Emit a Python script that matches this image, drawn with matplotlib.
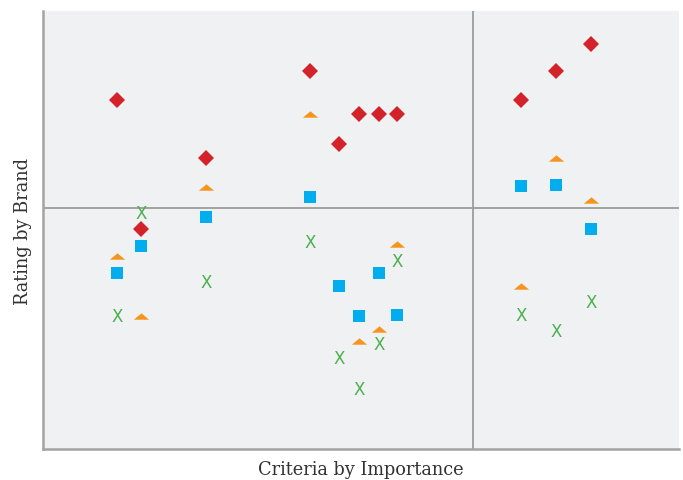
import numpy as np
import matplotlib.pyplot as plt
from matplotlib.path import Path

# positions in percent of the plot box (x: importance, y: rating)
red_x = [11.7, 15.4, 25.6, 42.0, 46.6, 49.7, 52.8, 55.7, 75.2, 80.7, 86.2]
red_y = [79.7, 50.3, 66.4, 86.2, 69.6, 76.4, 76.4, 76.4, 79.6, 86.4, 92.5]

orange_x = [11.7, 15.4, 25.6, 42.0, 49.7, 52.8, 55.7, 75.2, 80.7, 86.2]
orange_y = [44.0, 30.4, 59.9, 76.4, 24.7, 27.4, 46.8, 37.2, 66.4, 56.8]

blue_x = [11.7, 15.4, 25.6, 42.0, 46.6, 49.7, 52.8, 55.7, 75.2, 80.7, 86.2]
blue_y = [40.2, 46.4, 53.0, 57.6, 37.2, 30.4, 40.2, 30.6, 60.1, 60.3, 50.3]

green_x = [11.7, 15.4, 25.6, 42.0, 46.6, 49.7, 52.8, 55.7, 75.2, 80.7, 86.2]
green_y = [30.4, 53.9, 38.1, 47.3, 20.8, 13.7, 24.0, 43.0, 30.7, 27.0, 33.7]

x_div = 67.6
y_div = 55.1

fig = plt.figure(figsize=(6.83, 4.81), dpi=100)
ax = fig.add_axes([0.063, 0.064, 0.931, 0.911])
ax.set_facecolor('#f0f1f3')
ax.set_xlim(0, 100)
ax.set_ylim(0, 100)

# flat triangle marker
tri = Path([(-1, -0.42), (1, -0.42), (0, 0.42), (-1, -0.42)],
           [Path.MOVETO, Path.LINETO, Path.LINETO, Path.CLOSEPOLY])

ax.axvline(x_div, color='#9c9c9c', lw=1.3, zorder=1)
ax.axhline(y_div, color='#9c9c9c', lw=1.3, zorder=1)

ax.plot(red_x, red_y, 'D', color='#d3222a', ms=8.2, mew=0, zorder=3)
ax.plot(orange_x, orange_y, marker=tri, ls='none', color='#f7941d', ms=11, mew=0, zorder=3)
ax.plot(blue_x, blue_y, 's', color='#00aeef', ms=8, mew=0, zorder=3)
for gx, gy in zip(green_x, green_y):
    ax.text(gx, gy, 'X', color='#4bb04e', fontsize=12, ha='center', va='center',
            family='DejaVu Sans', zorder=3)

for s in ['top', 'right']:
    ax.spines[s].set_visible(False)
for s in ['left', 'bottom']:
    ax.spines[s].set_color('#a3a3a3')
    ax.spines[s].set_linewidth(1.8)
ax.set_xticks([])
ax.set_yticks([])

ax.set_xlabel('Criteria by Importance', family='DejaVu Serif', fontsize=12.8,
              color='#333333', labelpad=8)
ax.set_ylabel('Rating by Brand', family='DejaVu Serif', fontsize=12.8,
              color='#333333', labelpad=8)

fig.savefig('out.png', dpi=100)
